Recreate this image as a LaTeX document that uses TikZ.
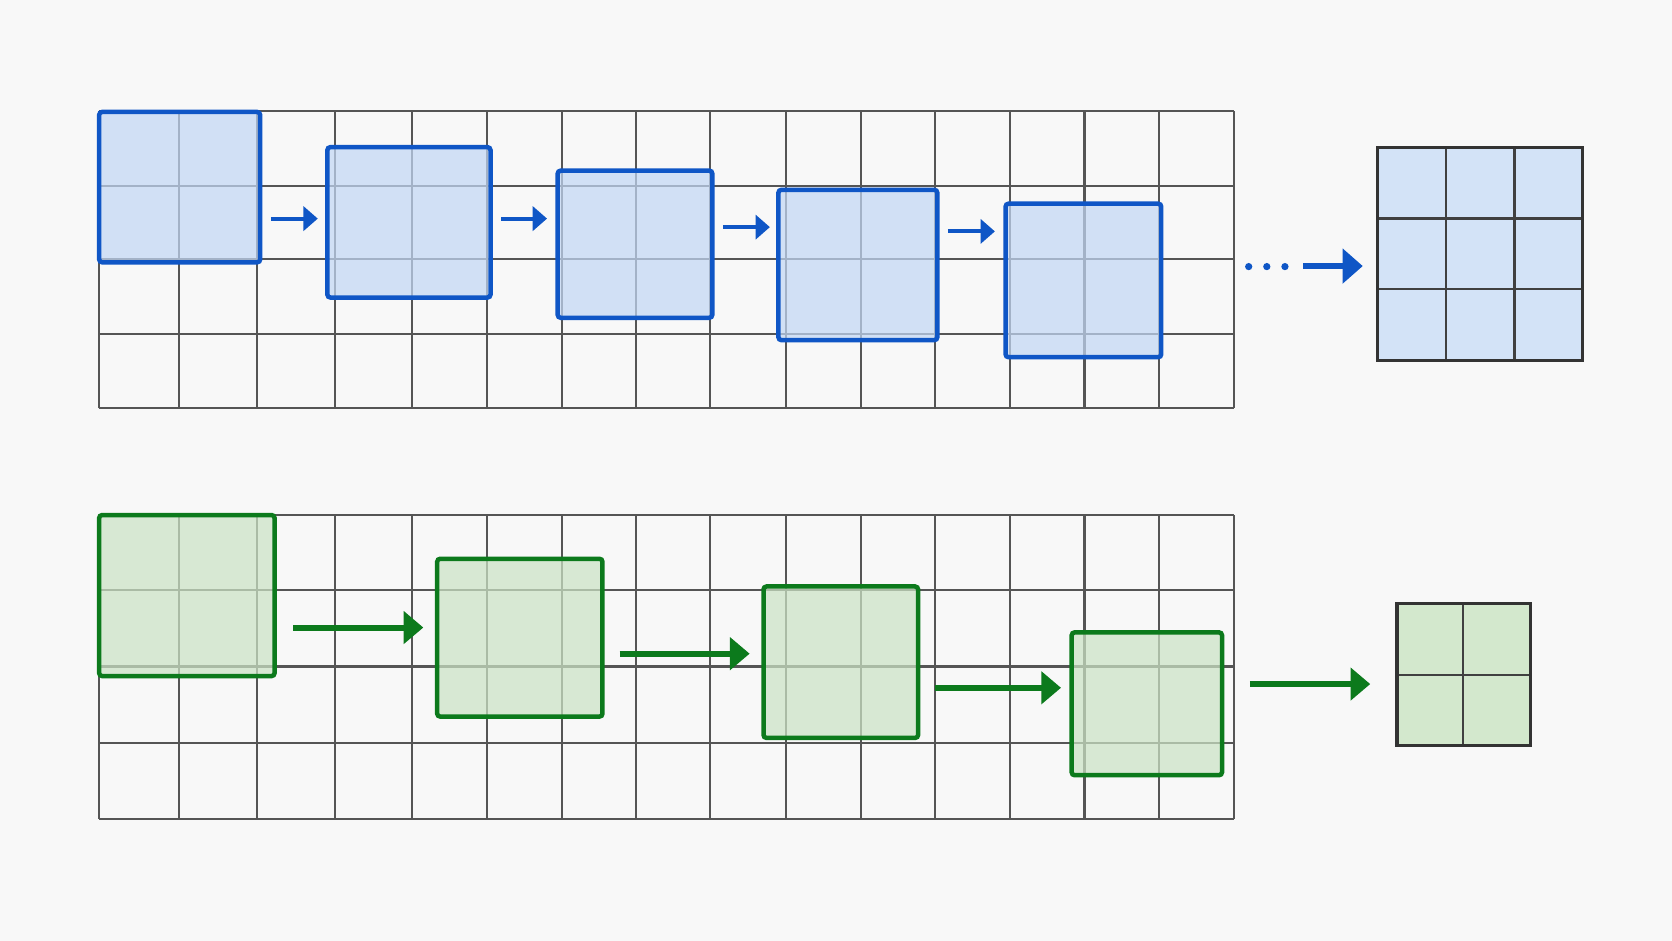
\documentclass[tikz,border=0pt]{standalone}
\usepackage{xcolor}
\usepackage{tikz}
\usetikzlibrary{arrows.meta}

\definecolor{winblue}{HTML}{0F56C6}
\definecolor{fillblue}{HTML}{C2D7F4}
\definecolor{resblue}{HTML}{D3E3F7}
\definecolor{wingreen}{HTML}{0C7A1C}
\definecolor{fillgreen}{HTML}{CBE3C5}
\definecolor{resgreen}{HTML}{D3E8CD}
\definecolor{gridgray}{HTML}{555555}
\definecolor{paper}{HTML}{F8F8F8}

\tikzset{
  gridline/.style={draw=gridgray,line width=0.55pt},
  bwin/.style={draw=winblue,line width=1.2pt,fill=fillblue,fill opacity=0.72,rounded corners=0.8pt},
  gwin/.style={draw=wingreen,line width=1.2pt,fill=fillgreen,fill opacity=0.72,rounded corners=0.8pt},
  barrow/.style={draw=winblue,line width=1.1pt,-{Triangle[length=0.134cm,width=0.225cm]}},
  bigbarrow/.style={draw=winblue,line width=1.8pt,-{Triangle[length=0.19cm,width=0.32cm]}},
  garrow/.style={draw=wingreen,line width=1.6pt,-{Triangle[length=0.185cm,width=0.30cm]}},
  resgrid/.style={draw=black!80,line width=0.85pt},
  resline/.style={draw=black!75,line width=0.7pt}
}

\begin{document}
\begin{tikzpicture}[x=1cm,y=1cm]
  \fill[paper] (0,0) rectangle (15.68,8.82);

  % 两个输入网格：上面步长小，下面步长大。
  \foreach \x in {0.93,1.68,2.41,3.14,3.86,4.57,5.27,5.96,6.66,7.37,8.07,8.77,9.47,10.17,10.87,11.57} {
    \draw[gridline] (\x,4.99) -- (\x,7.78);
    \draw[gridline] (\x,1.14) -- (\x,3.99);
  }
  \foreach \y in {7.78,7.08,6.39,5.69,4.99}
    \draw[gridline] (0.93,\y) -- (11.57,\y);
  \foreach \y in {3.99,3.29,2.57,1.85,1.14}
    \draw[gridline] (0.93,\y) -- (11.57,\y);

  \draw[bwin] (0.93,6.36) rectangle (2.44,7.77);
  \draw[bwin] (3.07,6.03) rectangle (4.60,7.44);
  \draw[bwin] (5.23,5.84) rectangle (6.68,7.22);
  \draw[bwin] (7.30,5.63) rectangle (8.79,7.04);
  \draw[bwin] (9.43,5.47) rectangle (10.89,6.91);

  \coordinate (a1s) at (2.54,6.77);  \coordinate (a1e) at (2.98,6.77);
  \coordinate (a2s) at (4.70,6.77);  \coordinate (a2e) at (5.13,6.77);
  \coordinate (a3s) at (6.78,6.69);  \coordinate (a3e) at (7.22,6.69);
  \coordinate (a4s) at (8.89,6.65);  \coordinate (a4e) at (9.33,6.65);
  \coordinate (a5s) at (12.22,6.325); \coordinate (a5e) at (12.78,6.325);
  \draw[barrow] (a1s) -- (a1e);
  \draw[barrow] (a2s) -- (a2e);
  \draw[barrow] (a3s) -- (a3e);
  \draw[barrow] (a4s) -- (a4e);
  \fill[winblue] (11.71,6.32) circle (0.034);
  \fill[winblue] (11.88,6.32) circle (0.034);
  \fill[winblue] (12.05,6.32) circle (0.034);
  \draw[bigbarrow] (a5s) -- (a5e);

  \fill[resblue] (12.92,5.44) rectangle (14.84,7.44);
  \draw[resline] (13.56,5.44) -- (13.56,7.44);
  \draw[resline] (14.20,5.44) -- (14.20,7.44);
  \draw[resline] (12.92,6.77) -- (14.84,6.77);
  \draw[resline] (12.92,6.11) -- (14.84,6.11);
  \draw[resgrid] (12.92,5.44) rectangle (14.84,7.44);

  \draw[gwin] (0.93,2.48) rectangle (2.575,3.99);
  \draw[gwin] (4.10,2.10) rectangle (5.65,3.58);
  \draw[gwin] (7.16,1.90) rectangle (8.61,3.32);
  \draw[gwin] (10.05,1.55) rectangle (11.46,2.89);

  \coordinate (g1s) at (2.75,2.935);  \coordinate (g1e) at (3.97,2.935);
  \coordinate (g2s) at (5.81,2.69);   \coordinate (g2e) at (7.03,2.69);
  \coordinate (g3s) at (8.77,2.37);   \coordinate (g3e) at (9.95,2.37);
  \coordinate (g4s) at (11.72,2.405); \coordinate (g4e) at (12.85,2.405);
  \draw[garrow] (g1s) -- (g1e);
  \draw[garrow] (g2s) -- (g2e);
  \draw[garrow] (g3s) -- (g3e);
  \draw[garrow] (g4s) -- (g4e);

  \fill[resgreen] (13.10,1.83) rectangle (14.35,3.16);
  \draw[resline] (13.72,1.83) -- (13.72,3.16);
  \draw[resline] (13.10,2.49) -- (14.35,2.49);
  \draw[resgrid] (13.10,1.83) rectangle (14.35,3.16);
\end{tikzpicture}
\end{document}
